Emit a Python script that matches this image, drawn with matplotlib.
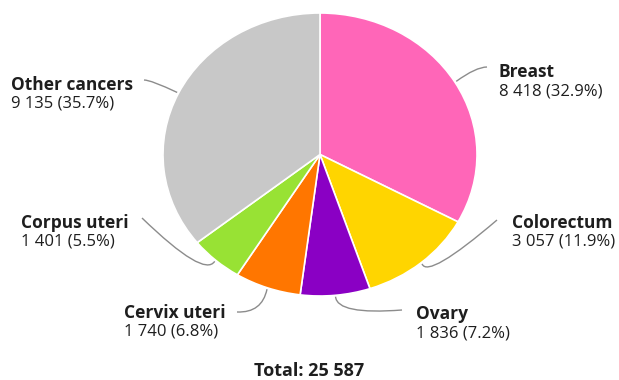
import numpy as np
import matplotlib
matplotlib.use("Agg")
import matplotlib.pyplot as plt
from matplotlib.path import Path
from matplotlib.patches import PathPatch

# Data
sites = ["Breast", "Colorectum", "Ovary", "Cervix uteri", "Corpus uteri", "Other cancers"]
cases = [8418, 3057, 1836, 1740, 1401, 9135]
colors = ["#ff66b8", "#ffd500", "#8a00c4", "#ff7600", "#98e234", "#c8c8c8"]

total = sum(cases)

def fmt(n):
    return f"{n:,}".replace(",", " ")

W, H = 619, 380
plt.rcParams["font.family"] = ["Open Sans", "DejaVu Sans"]

fig = plt.figure(figsize=(W / 100, H / 100), dpi=100)

# pie box in pixels (left, top, right, bottom) -- the original is slightly squashed
px_l, px_t, px_r, px_b = 163, 13, 477, 296
ax = fig.add_axes([px_l / W, 1 - px_b / H, (px_r - px_l) / W, (px_b - px_t) / H])
wedges, _ = ax.pie(cases, colors=colors, startangle=90, counterclock=False,
                   radius=1, wedgeprops={"edgecolor": "white", "linewidth": 1.2})
ax.set_xlim(-1, 1)
ax.set_ylim(-1, 1)
ax.set_aspect("auto")
ax.axis("off")

# overlay axes in pixel coords for labels and leader lines
ov = fig.add_axes([0, 0, 1, 1], zorder=5)
ov.set_xlim(0, W)
ov.set_ylim(H, 0)
ov.axis("off")

cx, cy = (px_l + px_r) / 2, (px_t + px_b) / 2
rx, ry = (px_r - px_l) / 2, (px_b - px_t) / 2

# label layout: text x, first-line baseline, leader ctrl point, leader end
layout = {
    "Breast":        (499, 77, (476, 67), (487, 67)),
    "Colorectum":    (512, 228, (428, 279), (497, 220)),
    "Ovary":         (416, 319, (337, 315), (402, 310)),
    "Cervix uteri":  (124, 318, (262, 313), (237, 312)),
    "Corpus uteri":  (21, 228, (204, 278), (142, 218)),
    "Other cancers": (11, 90, (151, 80), (144, 80)),
}

for w, site, n in zip(wedges, sites, cases):
    mid = np.deg2rad((w.theta1 + w.theta2) / 2)
    x0 = cx + 1.01 * rx * np.cos(mid)
    y0 = cy - 1.01 * ry * np.sin(mid)
    tx, ty, ctrl, end = layout[site]
    path = Path([(x0, y0), ctrl, end], [Path.MOVETO, Path.CURVE3, Path.CURVE3])
    ov.add_patch(PathPatch(path, fill=False, edgecolor="#8c8c8c", linewidth=1.0))
    ov.text(tx, ty, site, fontsize=12.5, fontweight="bold", color="#1e1e1e",
            ha="left", va="baseline")
    ov.text(tx, ty + 18, f"{fmt(n)} ({n / total * 100:.1f}%)", fontsize=12,
            color="#1e1e1e", ha="left", va="baseline")

ov.text(W / 2, 376, f"Total: {fmt(total)}", fontsize=13, fontweight="bold",
        color="#1e1e1e", ha="center", va="baseline")

fig.savefig("out.png", dpi=100, facecolor="white")
